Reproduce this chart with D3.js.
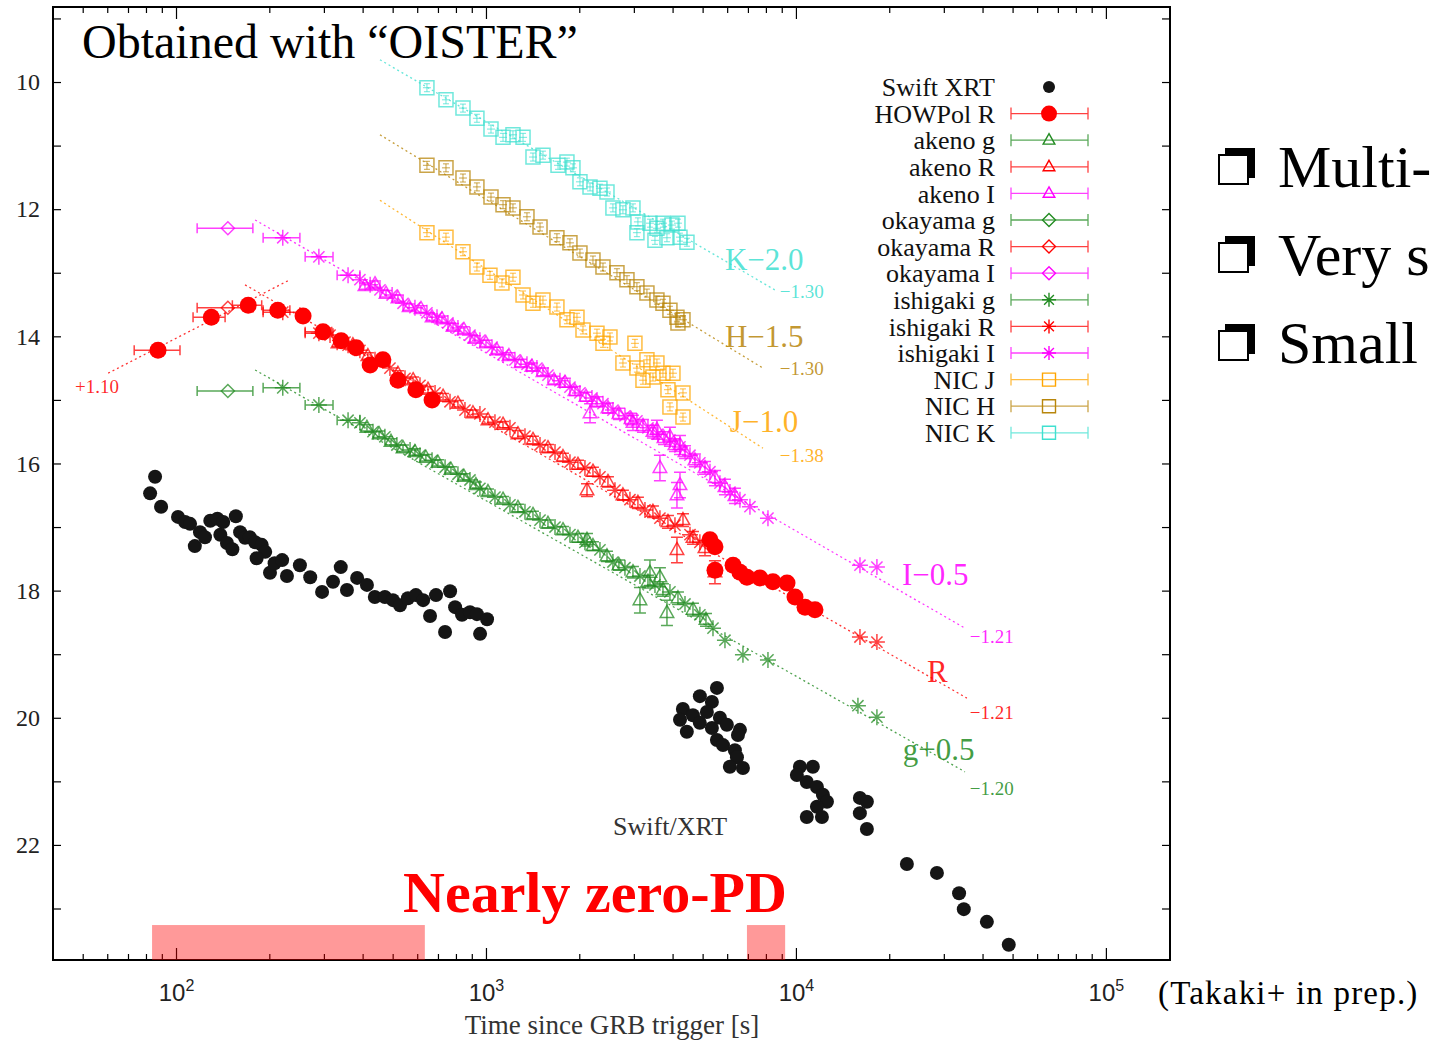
<!DOCTYPE html>
<html>
<head>
<meta charset="utf-8">
<script src="https://cdn.jsdelivr.net/npm/d3@7"></script>
<style>
body { margin: 0; background: #fff; }
svg { display: block; font-family: "Liberation Serif", "Times New Roman", serif; }
</style>
</head>
<body>
<svg id="chart" width="1430" height="1043"></svg>
<script>
// Light curve data: [time (s), magnitude] with optional y error or [tmin, tmax].
const swiftXrt = [
  [85.6,16.21],[82.5,16.47],[89.5,16.68],[101.5,16.84],[107,16.92],[111,16.95],[119.5,17.08],[124,17.16],
  [115,17.30],[129,16.90],[136,16.87],[142,16.92],[156,16.83],[139,17.12],[146,17.25],[152,17.35],
  [161,17.08],[167,17.17],[173,17.16],[180,17.24],[189,17.28],[194,17.39],[182,17.49],[201,17.72],
  [208,17.57],[220,17.52],[228,17.77],[251,17.60],[271,17.79],[296,18.02],[321,17.86],[340,17.63],
  [356,17.99],[384,17.80],[413,17.91],[438,18.10],[472,18.10],[501,18.15],[528,18.23],[560,18.12],
  [594,18.07],[627,18.15],[660,18.40],[690,18.07],[738,18.65],[766,18.01],[795,18.26],[837,18.38],
  [888,18.34],[935,18.37],[1008,18.45],[957,18.68],
  [5560,19.53],[4898,19.66],[5357,19.75],[4318,19.86],[5161,19.91],[4652,19.96],[4227,20.03],[5685,20.00],
  [4898,20.08],[4446,20.22],[5357,20.16],[5986,20.11],[6596,20.19],[5560,20.35],[5817,20.43],[6500,20.27],
  [6354,20.51],[6452,20.62],[6121,20.77],[6745,20.79],
  [10300,20.77],[11340,20.77],[10070,20.90],[10840,21.01],[11690,21.09],[12220,21.21],[12590,21.32],
  [11690,21.40],[10840,21.56],[12130,21.56],
  [16080,21.26],[16940,21.32],[16080,21.50],[16940,21.75],
  [22800,22.30],[28500,22.44],[33600,22.76],[34800,23.01],[41300,23.21],[48600,23.57]
];

const howpolR = [
  [87.5,14.22,73.3,103],[130,13.70,113.5,144],[171,13.51,152,189],[213,13.59,191,233],[257,13.68],
  [298,13.93,261,318],[341,14.07],[381,14.18],[423,14.45],[465,14.37],[520,14.69],[594,14.84],[670,15.00],
  [5280,17.20],[5480,17.31],[5480,17.68],[6270,17.60],[6598,17.71],[6950,17.79],[7650,17.80],
  [8430,17.86],[9360,17.88],[9930,18.10],[10700,18.26],[11520,18.30]
];

const akenoG = [
  [413,15.44,0.05],[452,15.54,0.05],[494,15.66,0.05],[540,15.76,0.05],[590,15.82,0.05],[640,15.91,0.05],
  [700,15.99,0.05],[771,16.10,0.05],[849,16.21,0.05],[928,16.34,0.05],[1015,16.45,0.05],[1135,16.57,0.05],
  [1268,16.70,0.06],[1418,16.81,0.06],[1585,16.95,0.06],[1772,17.05,0.06],[1981,17.17,0.07],[2118,17.20,0.10],
  [2214,17.30,0.07],[2457,17.46,0.08],[2685,17.60,0.08],[2980,17.71,0.09],[3139,18.15,0.20],[3381,17.72,0.20],
  [3641,17.79,0.15],[3836,18.35,0.20],[3331,17.86,0.10],[3724,17.99,0.10],[4163,18.12,0.10],[4654,18.30,0.10],
  [5126,18.46,0.10]
];

const akenoR = [
  [333,14.11,0.05],[372,14.14,0.05],[416,14.31,0.05],[465,14.40,0.05],[520,14.59,0.05],[582,14.69,0.05],
  [650,14.84,0.05],[727,14.95,0.05],[812,15.06,0.05],[908,15.21,0.05],[1015,15.32,0.05],[1135,15.39,0.05],
  [1268,15.54,0.06],[1418,15.63,0.06],[1585,15.76,0.06],[1772,15.90,0.06],[1981,16.02,0.07],[2118,16.42,0.10],
  [2214,16.13,0.07],[2475,16.29,0.08],[2766,16.50,0.08],[3092,16.62,0.09],[3457,16.76,0.09],[3865,16.92,0.10],
  [4321,16.89,0.10],[4132,17.36,0.20],[4654,17.17,0.10],[5088,17.33,0.12],[5480,17.71,0.18]
];

const akenoI = [
  [407,13.21,0.05],[438.5,13.18,0.05],[476,13.33,0.05],[520,13.40,0.05],[565,13.54,0.05],[617,13.57,0.05],
  [670,13.70,0.05],[721,13.73,0.05],[783,13.85,0.05],[849,13.90,0.05],[921,14.04,0.05],[1000,14.11,0.05],
  [1085,14.22,0.05],[1186,14.31,0.05],[1297,14.42,0.06],[1407,14.48,0.06],[1527,14.56,0.06],[1658,14.69,0.06],
  [1798,14.73,0.07],[1937,14.86,0.07],[2102,14.95,0.07],[2166,15.21,0.15],[2281,15.03,0.08],[2475,15.13,0.08],
  [2685,15.22,0.09],[2936,15.30,0.09],[2980,15.36,0.12],[3210,15.41,0.10],[3457,15.50,0.10],[3561,15.47,0.15],
  [3752,15.60,0.10],[3922,15.58,0.15],[4071,15.71,0.10],[4226,15.71,0.15],[3641,16.07,0.20],[4226,16.34,0.20],
  [4132,16.50,0.20],[4386,15.82,0.10],[4723,15.95,0.10],[5088,16.07,0.10],[5480,16.23,0.12],[5902,16.37,0.12],
  [6356,16.51,0.12]
];

const okayamaG = [[147,14.86,117,177]];
const okayamaR = [[147,13.55,117,177]];
const okayamaI = [[147,12.30,117,177]];

const ishigakiG = [
  [221,14.81,191,251],[289,15.08,261,321],[359,15.32,331,392],
  [392,15.36],[432,15.50],[472,15.58],[516,15.71],[569,15.79],[612.5,15.87],[670,15.95],[738,16.06],
  [812,16.17],[888,16.26],[956,16.39],[1069,16.53],[1195,16.65],[1336,16.76],[1494,16.89],[1670,17.00],
  [1866,17.12],[2086,17.24],[2332,17.36],[2568,17.55],[2808,17.64],[3139,17.77],[3509,17.91],[3922,18.02],
  [4386,18.21],[4899,18.38],[5400,18.59],[5902,18.78],[6746,19.01],[8124,19.09],[15850,19.81],[18250,19.99]
];

const ishigakiR = [
  [221,13.62,191,251],[289,13.95,261,321],[359,14.14,331,392],
  [314,13.98],[351,14.09],[392,14.22],[438.5,14.37],[490,14.50],[548,14.66],[612.5,14.77],[685,14.89],
  [765.5,15.03],[855.5,15.16],[956,15.22],[1069,15.35],[1195,15.44],[1336,15.57],[1494,15.71],[1670,15.82],
  [1866,15.98],[2086,16.07],[2332,16.21],[2607,16.42],[2914,16.57],[3258,16.73],[3641,16.86],[4071,16.97],
  [4552,17.12],[4899,17.24],[16090,18.73],[18250,18.81]
];

const ishigakiI = [
  [221,12.45,191,251],[289,12.75,261,321],[359,13.04,331,392],
  [392,13.11],[423,13.19],[455,13.27],[498,13.35],[540,13.48],[590,13.55],[645,13.63],[695,13.70],
  [754,13.79],[812,13.87],[888,13.98],[956,14.06],[1046,14.17],[1135,14.29],[1240,14.37],[1356,14.44],
  [1460,14.50],[1585,14.61],[1733,14.70],[1866,14.80],[2010,14.89],[2198,14.97],[2385,15.06],[2568,15.16],
  [2808,15.25],[3069,15.33],[3331,15.44],[3587,15.54],[3922,15.63],[4226,15.74],[4552,15.87],[4899,15.99],
  [5280,16.13],[5686,16.31],[6126,16.45],[6598,16.57],[7106,16.68],[8124,16.86],[16090,17.60],[18250,17.63]
];

const nicJ = [
  [645,12.37],[743,12.44],[843,12.67],[935,12.91],[1030,13.04],[1126,13.16],[1222,13.07],[1317,13.35],
  [1418,13.48],[1527,13.43],[1694,13.54],[1825,13.74],[1966,13.70],[2056,13.90],[2281,13.95],[2512,14.01],
  [2385,14.11],[3024,14.11],[2766,14.42],[3069,14.50],[3306,14.37],[3561,14.42],[3210,14.69],[3457,14.64],
  [3724,14.58],[4011,14.58],[3865,14.84],[4321,14.89],[3922,15.11],[4321,15.27]
];

const nicH = [
  [645,11.31],[743,11.35],[843,11.51],[935,11.65],[1038,11.81],[1135,11.93],[1222,11.98],[1356,12.12],
  [1494,12.28],[1694,12.45],[1866,12.53],[2010,12.69],[2214,12.80],[2385,12.91],[2646,13.00],[2850,13.11],
  [3069,13.22],[3306,13.32],[3561,13.43],[3724,13.48],[3922,13.59],[4132,13.70],[4321,13.74],[4163,13.79]
];

const nicK = [
  [645,10.09],[743,10.28],[843,10.41],[935,10.57],[1038,10.74],[1135,10.87],[1222,10.83],[1317,10.87],
  [1418,11.18],[1527,11.15],[1708,11.31],[1825,11.26],[1908,11.35],[2010,11.57],[2166,11.65],[2332,11.67],
  [2457,11.73],[2568,11.98],[2766,12.01],[2980,11.98],[3092,12.20],[3069,12.37],[3381,12.22],[3561,12.30],
  [3724,12.22],[3981,12.25],[4163,12.22],[3509,12.49],[3836,12.45],[4226,12.44],[4451,12.52]
];

// Power-law fits drawn as dotted lines: [time, mag] end points.
const fitK = [[455, 9.65], [8550, 13.27]];
const fitH = [[455, 10.83], [7830, 14.50]];
const fitJ = [[455, 11.86], [7830, 15.76]];
const fitI = [[180, 12.17], [35100, 18.59]];
const fitRrise = [[60.4, 14.58], [233, 13.11]];
const fitRdecay = [[167, 13.19], [35600, 19.69]];
const fitG = [[180, 14.53], [35100, 20.85]];

// Intervals with nearly zero polarization degree (s).
const zeroPdRanges = [[83.7, 635], [6950, 9230]];

const legendNames = ['Swift XRT', 'HOWPol R', 'akeno g', 'akeno R', 'akeno I', 'okayama g', 'okayama R',
  'okayama I', 'ishigaki g', 'ishigaki R', 'ishigaki I', 'NIC J', 'NIC H', 'NIC K'];

const yTicks = [9, 10, 11, 12, 13, 14, 15, 16, 17, 18, 19, 20, 21, 22, 23];
const xMajor = [100, 1000, 10000, 100000];

const bullets = ['Multi-', 'Very s', 'Small'];

// Colours.
const cG = '#228b22', cR = '#ff0000', cI = '#ff00ff', cJ = '#ffa500', cH = '#b8860b', cK = '#40e0d0';

const plot = {left: 53, top: 7, right: 1170, bottom: 960};

const svg = d3.select('#chart');

const x = d3.scaleLog()
  .domain([40.1, 1.61e5])
  .range([plot.left, plot.right]);
const y = d3.scaleLinear()
  .domain([8.82, 23.81])
  .range([plot.top, plot.bottom]);

svg.append('clipPath').attr('id', 'clip')
  .append('rect')
  .attr('x', plot.left).attr('y', plot.top)
  .attr('width', plot.right - plot.left).attr('height', plot.bottom - plot.top);

const inner = svg.append('g').attr('clip-path', 'url(#clip)');

// Fit lines.
const line = d3.line().x(d => x(d[0])).y(d => y(d[1]));
[[fitK, cK], [fitH, cH], [fitJ, cJ], [fitI, cI], [fitRrise, cR], [fitRdecay, cR], [fitG, cG]].forEach(f => {
  inner.append('path')
    .attr('d', line(f[0]))
    .attr('fill', 'none')
    .attr('stroke', f[1])
    .attr('stroke-opacity', 0.8)
    .attr('stroke-width', 1.3)
    .attr('stroke-dasharray', '2,3');
});

function markerPath(type, r)
{
  switch (type)
  {
    case 'triangle':
      return `M0,${-r}L${r * 0.9},${r * 0.6}L${-r * 0.9},${r * 0.6}Z`;
    case 'diamond':
      return `M0,${-r}L${r},0L0,${r}L${-r},0Z`;
    case 'square':
      return `M${-r},${-r}H${r}V${r}H${-r}Z`;
    case 'star': {
      const k = r * 0.7;
      return `M${-r},0H${r}M0,${-r}V${r}M${-k},${-k}L${k},${k}M${-k},${k}L${k},${-k}`;
    }
  }
  return '';
}

const series = [
  {name: legendNames[0], data: swiftXrt, color: '#151515', sym: 'dot', r: 7},
  {name: legendNames[1], data: howpolR, color: cR, sym: 'dot', r: 8.5},
  {name: legendNames[2], data: akenoG, color: cG, sym: 'triangle', r: 7.5},
  {name: legendNames[3], data: akenoR, color: cR, sym: 'triangle', r: 7.5},
  {name: legendNames[4], data: akenoI, color: cI, sym: 'triangle', r: 7.5},
  {name: legendNames[5], data: okayamaG, color: cG, sym: 'diamond', r: 6.5},
  {name: legendNames[6], data: okayamaR, color: cR, sym: 'diamond', r: 6.5},
  {name: legendNames[7], data: okayamaI, color: cI, sym: 'diamond', r: 6.5},
  {name: legendNames[8], data: ishigakiG, color: cG, sym: 'star', r: 8},
  {name: legendNames[9], data: ishigakiR, color: cR, sym: 'star', r: 8},
  {name: legendNames[10], data: ishigakiI, color: cI, sym: 'star', r: 8},
  {name: legendNames[11], data: nicJ, color: cJ, sym: 'square', r: 7},
  {name: legendNames[12], data: nicH, color: cH, sym: 'square', r: 7},
  {name: legendNames[13], data: nicK, color: cK, sym: 'square', r: 7}
];

series.forEach(s => {
  const g = inner.append('g')
    .attr('stroke', s.color)
    .attr('fill', 'none')
    .attr('stroke-opacity', 0.75)
    .attr('stroke-width', 1.5);

  // y error bars
  g.selectAll('path.yerr')
    .data(s.data.filter(d => d.length === 3))
    .join('path')
    .attr('class', 'yerr')
    .attr('d', d => {
      const px = x(d[0]), y0 = y(d[1] - d[2]), y1 = y(d[1] + d[2]);
      return `M${px},${y0}V${y1}M${px - 6},${y0}H${px + 6}M${px - 6},${y1}H${px + 6}`;
    });

  // x error bars (time bins)
  g.selectAll('path.xerr')
    .data(s.data.filter(d => d.length === 4))
    .join('path')
    .attr('class', 'xerr')
    .attr('d', d => {
      const py = y(d[1]), x0 = x(d[2]), x1 = x(d[3]);
      return `M${x0},${py}H${x1}M${x0},${py - 5}V${py + 5}M${x1},${py - 5}V${py + 5}`;
    });

  if (s.sym === 'dot')
  {
    g.selectAll('circle')
      .data(s.data)
      .join('circle')
      .attr('cx', d => x(d[0]))
      .attr('cy', d => y(d[1]))
      .attr('r', s.r)
      .attr('fill', s.color)
      .attr('stroke', 'none');
  }
  else
  {
    g.selectAll('path.mark')
      .data(s.data)
      .join('path')
      .attr('class', 'mark')
      .attr('transform', d => `translate(${x(d[0])},${y(d[1])})`)
      .attr('d', markerPath(s.sym, s.r));
    if (s.sym === 'square')
    {
      // small error bars inside the NIC boxes
      g.selectAll('path.inner')
        .data(s.data)
        .join('path')
        .attr('class', 'inner')
        .attr('transform', d => `translate(${x(d[0])},${y(d[1])})`)
        .attr('stroke-width', 1)
        .attr('d', 'M-4,0H4M0,-4V4M-3,-4H3M-3,4H3');
    }
  }
});

// Fit labels.
const fitLabels = [
  {text: 'K\u22122.0', t: 5902, m: 12.96, c: cK, big: true},
  {text: '\u22121.30', t: 8870, m: 13.40, c: cK},
  {text: 'H\u22121.5', t: 5902, m: 14.17, c: cH, big: true},
  {text: '\u22121.30', t: 8870, m: 14.61, c: cH},
  {text: 'J\u22121.0', t: 6120, m: 15.50, c: cJ, big: true},
  {text: '\u22121.38', t: 8870, m: 15.98, c: cJ},
  {text: 'I\u22120.5', t: 21980, m: 17.91, c: cI, big: true},
  {text: '\u22121.21', t: 36400, m: 18.82, c: cI},
  {text: 'R', t: 26470, m: 19.44, c: cR, big: true},
  {text: '\u22121.21', t: 36400, m: 20.02, c: cR},
  {text: 'g+0.5', t: 22130, m: 20.66, c: cG, big: true},
  {text: '\u22121.20', t: 36400, m: 21.21, c: cG},
  {text: '+1.10', t: 47.2, m: 14.89, c: cR}
];
svg.append('g').selectAll('text')
  .data(fitLabels)
  .join('text')
  .attr('x', d => x(d.t))
  .attr('y', d => y(d.m))
  .attr('fill', d => d.c)
  .attr('fill-opacity', 0.85)
  .style('font-size', d => d.big ? '31px' : '19px')
  .text(d => d.text);

svg.append('text')
  .attr('x', x(2571))
  .attr('y', y(21.84))
  .attr('fill', '#333')
  .style('font-size', '26px')
  .text('Swift/XRT');

// Axes: ticks inward on all four sides.
const allXTicks = x.ticks().filter(v => v >= 40 && v <= 1.61e5);
const xMinor = allXTicks.filter(v => !xMajor.includes(v));

function noDomain(g) { g.select('.domain').remove(); }

svg.append('g')
  .attr('transform', `translate(0,${plot.bottom})`)
  .call(d3.axisBottom(x).tickValues(xMinor).tickSize(-6).tickFormat(''))
  .call(noDomain);
const xAxis = svg.append('g')
  .attr('id', 'x-axis')
  .attr('transform', `translate(0,${plot.bottom})`)
  .call(d3.axisBottom(x).tickValues(xMajor).tickSize(-12).tickPadding(24).tickFormat(''))
  .call(noDomain);
xAxis.selectAll('.tick text')
  .attr('fill', '#222')
  .style('font-size', '24px')
  .each(function(d) {
    const t = d3.select(this);
    t.append('tspan').text('10');
    t.append('tspan').attr('dy', -10).style('font-size', '16px').text(Math.round(Math.log10(d)));
  });

svg.append('g')
  .attr('transform', `translate(0,${plot.top})`)
  .call(d3.axisTop(x).tickValues(xMinor).tickSize(-6).tickFormat(''))
  .call(noDomain);
svg.append('g')
  .attr('transform', `translate(0,${plot.top})`)
  .call(d3.axisTop(x).tickValues(xMajor).tickSize(-12).tickFormat(''))
  .call(noDomain);

svg.append('g')
  .attr('id', 'y-axis')
  .attr('transform', `translate(${plot.left},0)`)
  .call(d3.axisLeft(y).tickValues(yTicks).tickSize(-8).tickPadding(13)
    .tickFormat(d => d % 2 === 0 ? d : ''))
  .call(noDomain)
  .call(g => g.selectAll('.tick text').attr('fill', '#222').style('font-size', '24px')
    .style('font-family', '"Liberation Serif", serif'));

svg.append('g')
  .attr('transform', `translate(${plot.right},0)`)
  .call(d3.axisRight(y).tickValues(yTicks).tickSize(-8).tickFormat(''))
  .call(noDomain);

svg.selectAll('.tick line').attr('stroke', '#000').attr('stroke-width', 1.2);

svg.append('rect')
  .attr('x', plot.left).attr('y', plot.top)
  .attr('width', plot.right - plot.left).attr('height', plot.bottom - plot.top)
  .attr('fill', 'none')
  .attr('stroke', '#000')
  .attr('stroke-width', 2);

svg.append('text')
  .attr('x', 612)
  .attr('y', 1034)
  .attr('text-anchor', 'middle')
  .attr('fill', '#333')
  .style('font-size', '27px')
  .text('Time since GRB trigger [s]');

// Legend.
const legend = svg.append('g').attr('id', 'legend');
series.forEach((s, i) => {
  const ry = 87 + i * 26.6;
  const row = legend.append('g');
  row.append('text')
    .attr('x', 995)
    .attr('y', ry)
    .attr('dy', '0.35em')
    .attr('text-anchor', 'end')
    .attr('fill', '#111')
    .style('font-size', '26px')
    .text(s.name);
  const mx = 1049;
  if (i === 0)
  {
    row.append('circle').attr('cx', mx).attr('cy', ry).attr('r', 6).attr('fill', s.color);
    return;
  }
  row.append('path')
    .attr('d', `M1011,${ry}H1088M1011,${ry - 6}V${ry + 6}M1088,${ry - 6}V${ry + 6}`)
    .attr('stroke', s.color)
    .attr('stroke-opacity', 0.75)
    .attr('stroke-width', 1.3)
    .attr('fill', 'none');
  if (s.sym === 'dot')
  {
    row.append('circle').attr('cx', mx).attr('cy', ry).attr('r', 8).attr('fill', s.color);
  }
  else
  {
    row.append('path')
      .attr('transform', `translate(${mx},${ry})`)
      .attr('d', markerPath(s.sym, s.sym === 'star' ? 7 : 6.5))
      .attr('fill', 'none')
      .attr('stroke', s.color)
      .attr('stroke-width', 1.4);
  }
});

// Slide overlays.
svg.append('g').selectAll('rect')
  .data(zeroPdRanges)
  .join('rect')
  .attr('x', d => x(d[0]))
  .attr('width', d => x(d[1]) - x(d[0]))
  .attr('y', y(23.26))
  .attr('height', plot.bottom - y(23.26))
  .attr('fill', '#ff0000')
  .attr('fill-opacity', 0.4);

svg.append('text')
  .attr('x', 403)
  .attr('y', 912)
  .attr('fill', '#ff0000')
  .style('font-size', '58px')
  .style('font-weight', 'bold')
  .text('Nearly zero-PD');

svg.append('text')
  .attr('x', 82)
  .attr('y', 58)
  .attr('fill', '#000')
  .style('font-size', '48px')
  .text('Obtained with \u201cOISTER\u201d');

// Bullet list with shadowed square bullets.
const bl = svg.append('g');
bullets.forEach((b, i) => {
  const by = 187 + i * 88;
  bl.append('rect')
    .attr('x', 1225).attr('y', by - 39)
    .attr('width', 30).attr('height', 30)
    .attr('fill', '#000');
  bl.append('rect')
    .attr('x', 1219).attr('y', by - 32)
    .attr('width', 29).attr('height', 29)
    .attr('fill', '#fff')
    .attr('stroke', '#000')
    .attr('stroke-width', 2);
  bl.append('text')
    .attr('x', 1278)
    .attr('y', by)
    .style('font-size', '60px')
    .text(b);
});

svg.append('text')
  .attr('x', 1158)
  .attr('y', 1004)
  .style('font-size', '33px')
  .style('letter-spacing', '1.2px')
  .text('(Takaki+ in prep.)');
</script>
</body>
</html>
